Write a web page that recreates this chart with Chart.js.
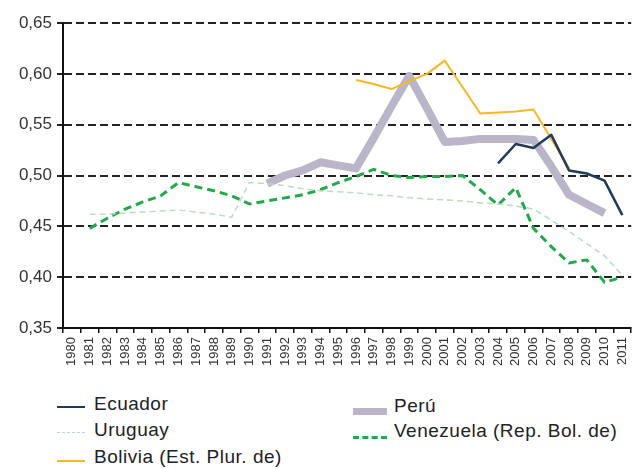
<!DOCTYPE html>
<html>
<head>
<meta charset="utf-8">
<script src="https://cdn.jsdelivr.net/npm/chart.js@4"></script>
<style>
body { margin: 0; background: #fff; font-family: "Liberation Sans", Arial, sans-serif; position: relative; width: 642px; height: 469px; overflow: hidden; }
#chart_container { position: absolute; left: 0; top: 0; width: 642px; height: 390px; }
.swatch { position: absolute; }
.label { position: absolute; white-space: nowrap; color: #222; font-size: 19px; line-height: 20px; letter-spacing: 0.5px; }
</style>
</head>
<body>
<div id="chart_container"><canvas id="chart"></canvas></div>
<script>
var years = ["1980","1981","1982","1983","1984","1985","1986","1987","1988","1989","1990","1991","1992","1993","1994","1995","1996","1997","1998","1999","2000","2001","2002","2003","2004","2005","2006","2007","2008","2009","2010","2011"];

var ecuador = [null,null,null,null,null,null,null,null,null,null,null,null,null,null,null,null,null,null,null,null,null,null,null,null,0.512,0.531,0.527,0.540,0.505,0.502,0.495,0.461];
var uruguay = [null,0.462,0.462,0.463,0.464,0.465,0.466,0.464,0.462,0.459,0.493,0.492,0.490,0.487,0.485,0.484,0.483,0.481,0.480,0.478,0.477,0.476,0.475,0.473,0.472,0.470,0.467,0.456,0.445,0.433,0.421,0.402];
var bolivia = [null,null,null,null,null,null,null,null,null,null,null,null,null,null,null,null,0.594,0.590,0.585,0.593,0.600,0.613,0.587,0.561,0.562,0.563,0.565,0.536,0.507,null,null,null];
var peru = [null,null,null,null,null,null,null,null,null,null,null,0.492,0.500,0.505,0.513,0.510,0.507,0.537,0.568,0.598,0.566,0.533,0.534,0.536,0.536,0.536,0.535,0.509,0.481,0.472,0.463,null];
var venezuela = [null,0.448,0.458,0.467,0.474,0.480,0.493,0.489,0.485,0.480,0.472,0.475,0.478,0.481,0.486,0.493,0.499,0.506,0.500,0.498,0.499,0.499,0.500,0.486,0.471,0.488,0.448,0.430,0.414,0.417,0.395,0.400];

var yTicks = [0.35, 0.40, 0.45, 0.50, 0.55, 0.60, 0.65];

var series = [
    { label: "Ecuador", data: ecuador, color: "#1f3b5c", width: 2.5, dash: [], order: 0 },
    { label: "Uruguay", data: uruguay, color: "#b9dcc3", width: 1.5, dash: [6, 4], order: 1 },
    { label: "Bolivia (Est. Plur. de)", data: bolivia, color: "#f6b824", width: 2, dash: [], order: 2 },
    { label: "Perú", data: peru, color: "#bab5c9", width: 8, dash: [], order: 10 },
    { label: "Venezuela (Rep. Bol. de)", data: venezuela, color: "#23a84a", width: 3, dash: [8, 5], order: 3 }
];

var chart = new Chart(document.getElementById("chart"), {
    type: "line",
    data: {
        labels: years,
        datasets: series.map(function (s) {
            return {
                label: s.label,
                data: s.data,
                borderColor: s.color,
                borderWidth: s.width,
                borderDash: s.dash,
                borderCapStyle: "butt",
                borderJoinStyle: "round",
                pointRadius: 0,
                tension: 0,
                fill: false,
                order: s.order
            };
        })
    },
    options: {
        responsive: true,
        maintainAspectRatio: false,
        animation: false,
        layout: { padding: { top: 23, right: 6, left: 0, bottom: 0 } },
        plugins: {
            legend: { display: false },
            tooltip: { enabled: false }
        },
        scales: {
            x: {
                offset: true,
                grid: {
                    offset: true,
                    drawOnChartArea: false,
                    drawTicks: true,
                    tickLength: 5,
                    color: "#111",
                    lineWidth: 1.5
                },
                border: { color: "#111", width: 2 },
                ticks: {
                    minRotation: 90,
                    maxRotation: 90,
                    autoSkip: false,
                    padding: 4,
                    color: "#333",
                    font: { family: "Liberation Sans, Arial, sans-serif", size: 13 }
                },
                afterFit: function (scale) { scale.height = 62; }
            },
            y: {
                min: 0.35,
                max: 0.65,
                afterBuildTicks: function (scale) {
                    scale.ticks = yTicks.map(function (v) { return { value: v }; });
                },
                grid: {
                    color: "#222",
                    lineWidth: 2,
                    tickLength: 6
                },
                border: { color: "#111", width: 2, dash: [8, 4] },
                ticks: {
                    padding: 5,
                    color: "#333",
                    font: { family: "Liberation Sans, Arial, sans-serif", size: 17 },
                    callback: function (value) { return value.toFixed(2).replace(".", ","); }
                },
                afterFit: function (scale) { scale.width = 63; }
            }
        }
    }
});

// legend in two columns, placed like the original
var legendPlaces = [
    { sx: 57, sw: 28, sy: 407, tx: 94, base: 411 },
    { sx: 57, sw: 28, sy: 433, tx: 94, base: 437 },
    { sx: 57, sw: 28, sy: 461, tx: 94, base: 464 },
    { sx: 353, sw: 34, sy: 411, tx: 394, base: 413 },
    { sx: 353, sw: 34, sy: 437, tx: 394, base: 438 }
];
legendPlaces.forEach(function (p, i) {
    var s = series[i];
    var h = Math.min(s.width, 7);
    var sw = document.createElement("div");
    sw.className = "swatch";
    sw.style.left = p.sx + "px";
    sw.style.width = p.sw + "px";
    sw.style.top = (p.sy - h / 2) + "px";
    if (s.dash.length) {
        sw.style.height = "0px";
        sw.style.borderTop = h + "px dashed " + s.color;
    } else {
        sw.style.height = h + "px";
        sw.style.background = s.color;
    }
    var lb = document.createElement("div");
    lb.className = "label";
    lb.style.left = p.tx + "px";
    lb.style.top = (p.base - 16.6) + "px";
    lb.innerText = s.label;
    document.body.appendChild(sw);
    document.body.appendChild(lb);
});
</script>
</body>
</html>
